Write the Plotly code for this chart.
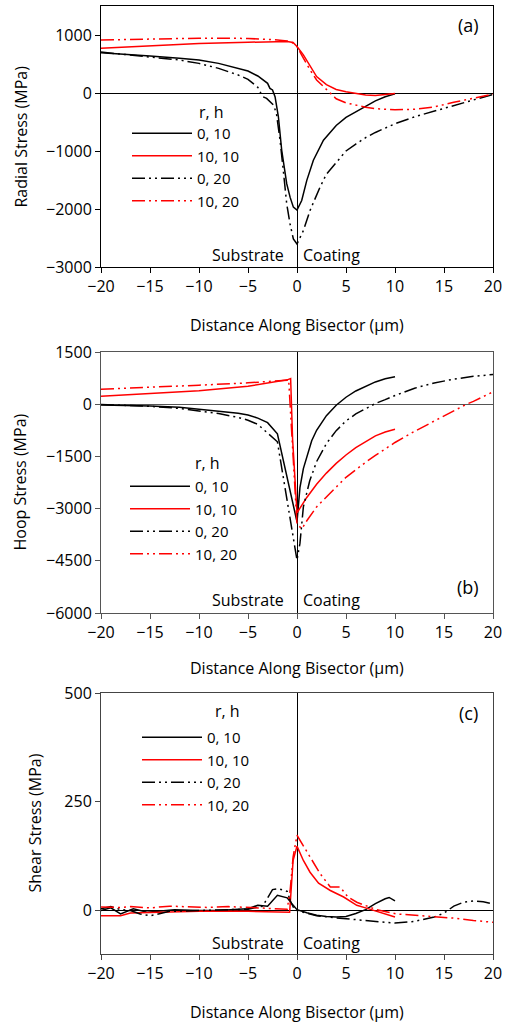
import plotly.graph_objects as go

# ---------------- data ----------------
series_names = ["0, 10", "10, 10", "0, 20", "10, 20"]
x_ticks = [-20, -15, -10, -5, 0, 5, 10, 15, 20]

# (a) radial stress, MPa
radial_x_0_10 = [-20, -18, -17, -15, -12, -10, -8, -6, -5, -4, -3, -2.76, -2.5, -2.24, -1.9, -1.56, -1.3,
                 -1.05, -0.7, -0.37, 0, 0.48, 1, 1.67, 2.7, 4, 5, 6, 7, 8, 9, 10]
radial_y_0_10 = [695, 667, 660, 638, 598, 569, 511, 425, 379, 293, 167, 80, 52, -63, -410, -987, -1300,
                 -1564, -1800, -1968, -2020, -1853, -1506, -1160, -814, -560, -420, -320, -220, -135, -65, -15]
radial_x_10_10 = [-20, -15, -10, -5, -2, -1, -0.4, 0, 0.65, 1.33, 2, 3, 4, 5, 6, 7, 8, 9, 10]
radial_y_10_10 = [770, 815, 855, 875, 885, 889, 872, 802, 658, 456, 283, 145, 60, 20, -10, -35, -42, -32, -10]
radial_x_0_20 = [-20, -15, -12, -10, -8, -6, -5, -4, -3.78, -3.5, -3.1, -2.76, -2.4, -2.1, -1.73, -1.4,
                 -1.05, -0.71, -0.37, 0, 0.65, 1.33, 2.35, 3, 4, 5, 6, 7, 8, 10, 12, 14, 16, 18, 20]
radial_y_0_20 = [705, 626, 569, 511, 425, 310, 236, 98, 23, -63, -92, -150, -208, -352, -814, -1333,
                 -1910, -2257, -2517, -2603, -2372, -2026, -1622, -1400, -1190, -1000, -880, -770, -680,
                 -530, -410, -310, -210, -120, -25]
radial_x_10_20 = [-20, -17, -14, -10, -7, -5, -2, -1, -0.5, 0, 0.65, 1.33, 2, 3, 4, 5, 6, 7, 8, 10, 12,
                  14, 16, 18, 20]
radial_y_10_20 = [914, 925, 937, 945, 945, 940, 915, 895, 870, 802, 600, 398, 225, 60, -100, -170, -210,
                  -245, -270, -290, -280, -240, -160, -85, -20]

# (b) hoop stress, MPa
hoop_x_0_10 = [-20, -17, -15, -12, -10, -8, -6, -5, -4, -3, -2, 0, 0.3, 0.65, 1, 1.5, 2, 3, 4, 5, 6, 7,
               8, 9, 10]
hoop_y_0_10 = [-20, -35, -50, -90, -140, -190, -260, -310, -400, -530, -850, -3380, -2400, -1850, -1500,
               -1050, -750, -330, -30, 200, 380, 520, 640, 730, 790]
hoop_x_10_10 = [-20, -15, -10, -5, -2, -1, -0.65, -0.45, 0, 1, 2, 3, 4, 5, 6, 7, 8, 9, 10]
hoop_y_10_10 = [230, 306, 383, 517, 640, 700, 737, -1000, -3120, -2680, -2300, -1980, -1700, -1460,
                -1250, -1070, -910, -800, -720]
hoop_x_0_20 = [-20, -17, -15, -12, -10, -8, -6, -5, -4, -3, -2, 0, 0.3, 0.65, 1, 1.3, 2, 3, 4, 5, 6, 7,
               8, 9, 10, 12, 14, 16, 18, 20]
hoop_y_0_20 = [-10, -40, -60, -120, -190, -270, -380, -460, -580, -820, -1080, -4480, -4000, -2950, -2550,
               -2200, -1650, -1130, -760, -480, -280, -120, 20, 130, 250, 460, 610, 720, 800, 852]
hoop_x_10_20 = [-20, -15, -10, -5, -2, -1, -0.85, 0, 0.5, 1, 2, 3, 4, 5, 6, 7, 8, 9, 10, 12, 14, 16,
                17.3, 18, 20]
hoop_y_10_20 = [431, 479, 546, 613, 660, 690, 705, -3450, -3580, -3350, -2950, -2650, -2380, -2100, -1880,
                -1670, -1470, -1280, -1100, -780, -480, -200, 0, 80, 354]

# (c) shear stress, MPa
shear_x_0_10 = [-20, -19, -18, -16.7, -15.3, -14, -12.5, -10, -8, -6, -5, -4, -3, -2, -1, -0.5, 0, 1, 2,
                3, 4, 5, 6, 7, 8, 9, 9.4, 10]
shear_y_0_10 = [0, 6, -8, 4, -4, -2, 2, 0, 0, 3, 4, 12, 10, 35, 29, 15, 2, -5, -11, -14, -15, -14, -7, 2,
                16, 27, 30, 22]
shear_x_10_10 = [-20, -18, -17, -15, -12, -10, -5, -1, -0.75, -0.4, 0, 0.65, 1.33, 2.2, 3.4, 4.76, 6.1,
                 7, 7.8, 9, 10]
shear_y_10_10 = [-12, -12, -6, -5, -3, -2, -2, -3, -4, 115, 148, 115, 88, 63, 46, 31, 12, 6, 0, -8, -15]
shear_x_0_20 = [-20, -19, -18, -17, -16, -15, -14.5, -13, -10, -7, -5, -3.5, -2.5, -1.9, -1, -0.7, -0.3,
                0, 1, 2, 4, 5, 7, 9, 10, 12, 14, 15, 16, 17, 18, 19, 20]
shear_y_0_20 = [4, 9, 2, 0, -8, -12, -10, -2, 0, 1, 3, 10, 48, 50, 44, 23, 4, 0, -6, -12, -17, -19, -23,
                -27, -29, -25, -15, -6, 10, 19, 22, 20, 15]
shear_x_10_20 = [-20, -18, -17, -15, -13, -11, -9, -7, -6, -5, -4, -3, -1, -0.7, -0.4, 0, 1, 2.35, 3.4,
                 4.4, 5.2, 6.1, 6.8, 8.1, 10.2, 12.9, 14.9, 16.3, 18, 20]
shear_y_10_20 = [8, 7, 9, 6, 10, 8, 7, 9, 8, 6, 5, 4, 3, 46, 123, 173, 135, 85, 54, 54, 31, 19, 13, 2, -8,
                 -12, -15, -18, -23, -27]

# ---------------- layout helpers ----------------
W, H = 507, 1025
M_L, M_R, M_T, M_B = 101, 14, 6, 71
PLOT_W = W - M_L - M_R
PLOT_H = H - M_T - M_B


def px_y(py):
    """Page pixel row -> paper y."""
    return 1 - (py - M_T) / PLOT_H


def px_x(px):
    """Page pixel column -> paper x."""
    return (px - M_L) / PLOT_W


FONT = "Open Sans"
DASH_DOT_DOT = "13px,4px,2px,4px,2px,4px"
line_styles = [
    dict(color="#000000", dash="solid"),
    dict(color="#ff0000", dash="solid"),
    dict(color="#000000", dash=DASH_DOT_DOT),
    dict(color="#ff0000", dash=DASH_DOT_DOT),
]

panels = [
    dict(
        xs=[radial_x_0_10, radial_x_10_10, radial_x_0_20, radial_x_10_20],
        ys=[radial_y_0_10, radial_y_10_10, radial_y_0_20, radial_y_10_20],
        title="Radial Stress (MPa)", yrange=[-3000, 1500], yticks=[-3000, -2000, -1000, 0, 1000],
        box=(6, 267), frame="#000000", zero="#000000", tag_y=25, tag="(a)",
        text_y=-2800, leg=(127, 117), rh=(211, 112), ytitle_x=20, xtitle_y=325,
    ),
    dict(
        xs=[hoop_x_0_10, hoop_x_10_10, hoop_x_0_20, hoop_x_10_20],
        ys=[hoop_y_0_10, hoop_y_10_10, hoop_y_0_20, hoop_y_10_20],
        title="Hoop Stress (MPa)", yrange=[-6000, 1500], yticks=[-6000, -4500, -3000, -1500, 0, 1500],
        box=(352, 613), frame="#555555", zero="#555555", tag_y=587, tag="(b)",
        text_y=-5630, leg=(125, 470), rh=(207, 463), ytitle_x=20, xtitle_y=668,
    ),
    dict(
        xs=[shear_x_0_10, shear_x_10_10, shear_x_0_20, shear_x_10_20],
        ys=[shear_y_0_10, shear_y_10_10, shear_y_0_20, shear_y_10_20],
        title="Shear Stress (MPa)", yrange=[-100, 500], yticks=[0, 250, 500],
        box=(693, 954), frame="#444444", zero="#000000", tag_y=713, tag="(c)",
        text_y=-74, leg=(137, 721), rh=(227, 711), ytitle_x=35, xtitle_y=1012,
    ),
]

fig = go.Figure()
annotations = []
layout = dict(
    width=W, height=H,
    margin=dict(l=M_L, r=M_R, t=M_T, b=M_B, autoexpand=False),
    paper_bgcolor="white", plot_bgcolor="white",
    font=dict(family=FONT, size=16, color="#000000"),
    showlegend=True,
)

for i, p in enumerate(panels):
    n = "" if i == 0 else str(i + 1)
    xa, ya = "x" + n, "y" + n
    leg = "legend" + n
    domain = [px_y(p["box"][1]), px_y(p["box"][0])]
    for k in range(4):
        fig.add_trace(go.Scatter(
            x=p["xs"][k], y=p["ys"][k], mode="lines", name=series_names[k],
            line=dict(color=line_styles[k]["color"], dash=line_styles[k]["dash"], width=1.5),
            xaxis=xa, yaxis=ya, legend=leg, showlegend=True,
        ))
    layout["xaxis" + n] = dict(
        domain=[0, 1], anchor=ya, range=[-20, 20], tickvals=x_ticks,
        showline=True, mirror=True, linecolor=p["frame"], linewidth=1,
        ticks="outside", ticklen=5, tickcolor=p["frame"], showgrid=False,
        zeroline=True, zerolinecolor="#000000", zerolinewidth=1,
        tickfont=dict(size=16), automargin=False,
    )
    layout["yaxis" + n] = dict(
        domain=domain, anchor=xa, range=p["yrange"], tickvals=p["yticks"],
        showline=True, mirror=True, linecolor=p["frame"], linewidth=1,
        ticks="outside", ticklen=5, tickcolor=p["frame"], showgrid=False,
        zeroline=True, zerolinecolor=p["zero"], zerolinewidth=1.2,
        tickfont=dict(size=16), automargin=False,
    )
    layout[leg] = dict(
        x=px_x(p["leg"][0]), y=px_y(p["leg"][1]), xanchor="left", yanchor="top",
        bgcolor="rgba(0,0,0,0)", borderwidth=0, font=dict(size=15), itemwidth=60,
        tracegroupgap=0,
    )
    # y-axis title
    annotations.append(dict(
        text=p["title"], xref="paper", yref="paper", x=px_x(p["ytitle_x"]),
        y=(domain[0] + domain[1]) / 2, textangle=-90, showarrow=False,
        xanchor="center", yanchor="middle", font=dict(size=16),
    ))
    # x-axis title
    annotations.append(dict(
        text="Distance Along Bisector (\u03bcm)", xref="paper", yref="paper", x=px_x(297),
        y=px_y(p["xtitle_y"]), showarrow=False, xanchor="center", yanchor="middle",
        font=dict(size=16),
    ))
    # panel tag
    annotations.append(dict(
        text=p["tag"], xref="paper", yref="paper", x=px_x(468), y=px_y(p["tag_y"]),
        showarrow=False, xanchor="center", yanchor="middle", font=dict(size=18),
    ))
    # region labels either side of the interface
    annotations.append(dict(
        text="Substrate", xref=xa, yref=ya, x=0, y=p["text_y"], showarrow=False,
        xanchor="right", yanchor="middle", xshift=-11, font=dict(size=16),
    ))
    annotations.append(dict(
        text="Coating", xref=xa, yref=ya, x=0, y=p["text_y"], showarrow=False,
        xanchor="left", yanchor="middle", xshift=4, font=dict(size=16),
    ))
    # legend heading
    annotations.append(dict(
        text="r, h", xref="paper", yref="paper", x=px_x(p["rh"][0]), y=px_y(p["rh"][1]),
        showarrow=False, xanchor="center", yanchor="middle", font=dict(size=16),
    ))

layout["annotations"] = annotations
fig.update_layout(**layout)
fig.write_html("out.html")
